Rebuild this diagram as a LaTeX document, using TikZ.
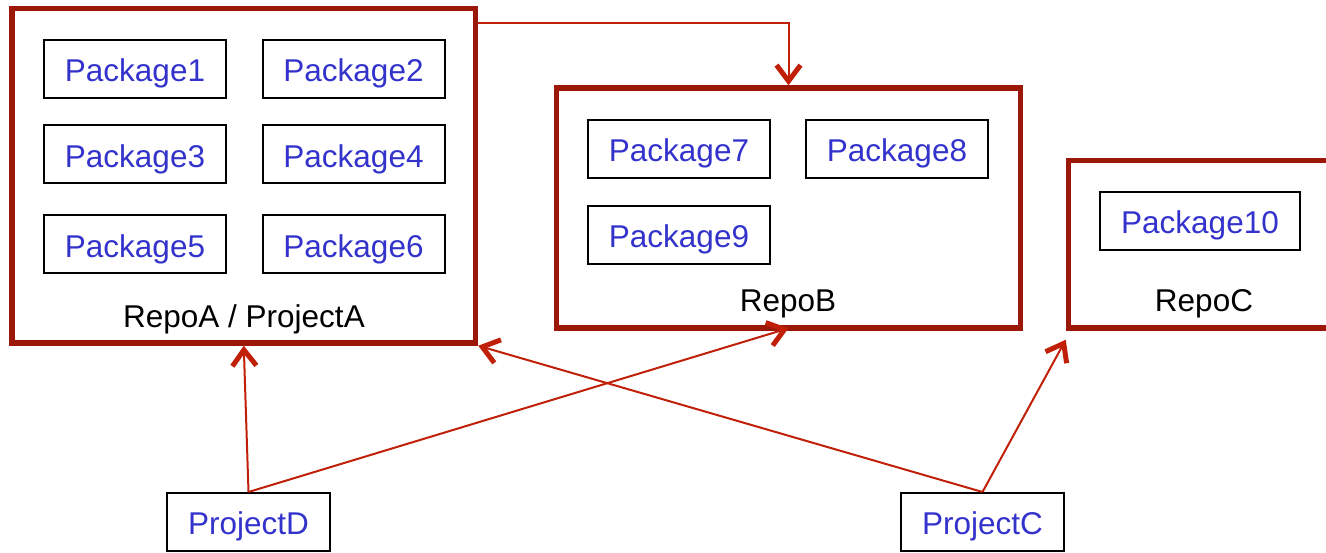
\documentclass[tikz,border=0pt]{standalone}
\usepackage{fontspec}
\setmainfont{Liberation Sans}
\usetikzlibrary{arrows.meta}

\definecolor{repoRed}{RGB}{155,24,8}
\definecolor{linkRed}{RGB}{192,32,8}
\definecolor{pkgBlue}{RGB}{51,51,204}

\tikzset{
  repo/.style={draw=repoRed, line width=5.5pt, inner sep=0pt},
  pkg/.style={draw=black, line width=2pt, text=pkgBlue, inner sep=0pt,
    minimum width=182pt, minimum height=58pt,
    font=\fontsize{31.5}{36}\selectfont, text height=25.6pt, text depth=0pt},
  repolabel/.style={anchor=base, text=black, inner sep=0pt,
    font=\fontsize{31.5}{36}\selectfont},
  link/.style={draw=linkRed, line width=2pt,
    -{Straight Barb[length=16pt, width=24pt, line width=5pt]}}
}

\begin{document}
\begin{tikzpicture}[x=1pt, y=-1pt]
  \useasboundingbox (0,0) rectangle (1326,553);

  % repositories
  \node[repo, minimum width=463.5pt, minimum height=334.5pt] (repoA) at (243.75,175.75) {};
  \node[repo, minimum width=464pt, minimum height=240pt] (repoB) at (788.5,208) {};
  \node[repo, minimum width=465pt, minimum height=167.5pt] (repoC) at (1301,244.25) {};

  \node[repolabel] (labA) at (244,328) {RepoA / ProjectA};
  \node[repolabel] (labB) at (788,311.5) {RepoB};
  \node[repolabel] (labC) at (1204,311.5) {RepoC};

  % packages of RepoA
  \node[pkg] (p1) at (135,69) {Package1};
  \node[pkg] (p2) at (353.5,69) {Package2};
  \node[pkg] (p3) at (135,154.5) {Package3};
  \node[pkg] (p4) at (353.5,154.5) {Package4};
  \node[pkg] (p5) at (135,244.5) {Package5};
  \node[pkg] (p6) at (353.5,244.5) {Package6};

  % packages of RepoB
  \node[pkg] (p7) at (679,149) {Package7};
  \node[pkg] (p8) at (897,149) {Package8};
  \node[pkg] (p9) at (679,235) {Package9};

  % package of RepoC
  \node[pkg, minimum width=200pt] (p10) at (1200,221) {Package10};

  % projects
  \node[pkg, minimum width=163pt] (projD) at (248.5,522) {ProjectD};
  \node[pkg, minimum width=163pt] (projC) at (982.5,522) {ProjectC};

  % dependencies
  \coordinate (aOut) at ([yshift=-17.25pt]repoA.north east);
  \coordinate (bIn) at ([yshift=2.5pt]repoB.south);
  \coordinate (cIn) at ([yshift=-9pt]repoC.south west);

  \draw[link] (aOut) -| (repoB.north);
  \draw[link] (projD.north) -- (repoA.south);
  \draw[link] (projD.north) -- (bIn);
  \draw[link] (projC.north) -- (repoA.south east);
  \draw[link] (projC.north) -- (cIn);
\end{tikzpicture}
\end{document}
